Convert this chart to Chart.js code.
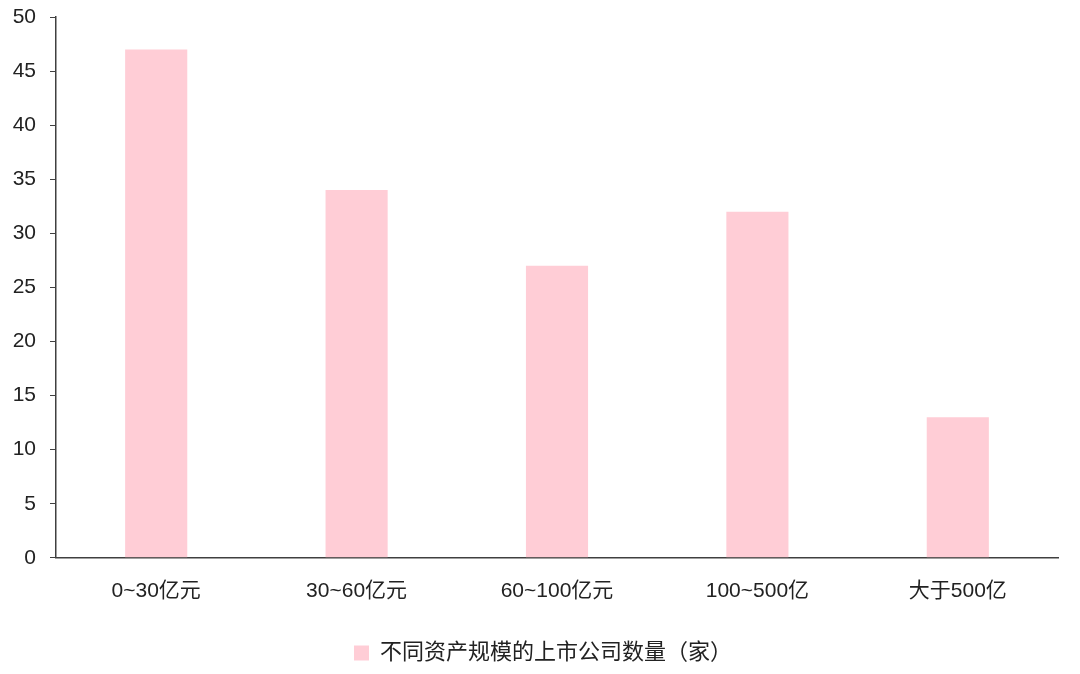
<!DOCTYPE html>
<html><head><meta charset="utf-8">
<script src="https://cdn.jsdelivr.net/npm/chart.js@4"></script>
<style>html,body{margin:0;padding:0;background:#fff;}#wrap{width:1080px;height:674px;}</style>
</head><body><div id="wrap"><canvas id="c" width="1080" height="674"></canvas></div>
<script>
const categories = ['0~30亿元','30~60亿元','60~100亿元','100~500亿','大于500亿'];
const seriesName = '不同资产规模的上市公司数量（家）';
const values = [47, 34, 27, 32, 13];
const yTicks = [0,5,10,15,20,25,30,35,40,45,50];

const FONT = '"Liberation Sans", Arial, "Noto Sans CJK SC", sans-serif';
const legendShift = {
  id: 'legendShift',
  afterLayout(chart) { if (chart.legend) { chart.legend.left += 14; chart.legend.right += 14; } }
};
new Chart(document.getElementById('c'), {
  type: 'bar',
  data: { labels: categories, datasets: [{ label: seriesName, data: values, backgroundColor: '#FFCDD6', barPercentage: 0.31, categoryPercentage: 1 }] },
  options: {
    responsive: false, animation: false,
    layout: { padding: { top: 17, right: 22, left: 0, bottom: 0 } },
    scales: {
      x: {
        grid: { display: false, drawTicks: false },
        border: { display: true, color: '#404040', width: 1.5 },
        ticks: { color: '#222', font: { family: FONT, size: 21 }, padding: 21 }
      },
      y: {
        min: 0, max: 50,
        afterBuildTicks: s => { s.ticks = yTicks.map(v => ({ value: v })); },
        afterFit: s => { s.width = 56; s.paddingTop = 0; s.paddingBottom = 0; },
        grid: { drawOnChartArea: false, drawTicks: true, tickLength: 6, color: '#404040' },
        border: { display: true, color: '#404040', width: 1.5 },
        ticks: { color: '#222', font: { family: FONT, size: 21 }, padding: 14 }
      }
    },
    plugins: {
      legend: { position: 'bottom', labels: { boxWidth: 15, boxHeight: 15, color: '#222', font: { family: FONT, size: 22 }, padding: 17 } },
      tooltip: { enabled: false }
    }
  },
  plugins: [legendShift]
});
</script></body></html>
